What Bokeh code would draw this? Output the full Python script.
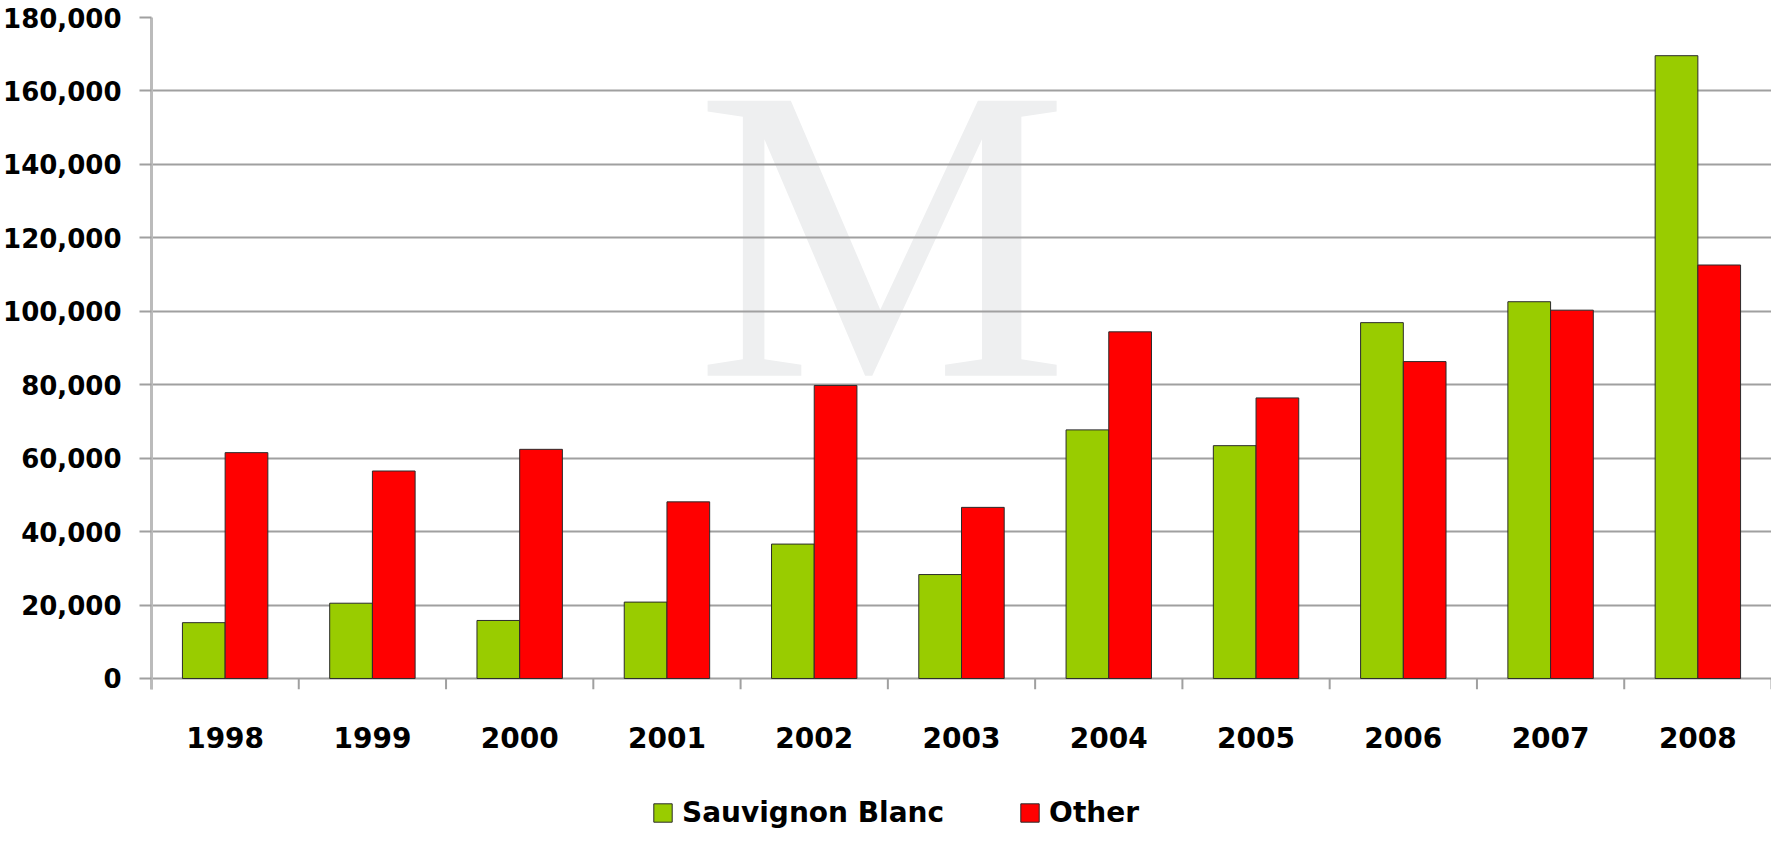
from bokeh.plotting import figure
from bokeh.layouts import column
from bokeh.models import (Range1d, LinearAxis, FixedTicker, Legend,
                          LegendItem, Label, NumeralTickFormatter, ColumnDataSource)
from bokeh.transform import dodge
from bokeh.embed import file_html
from bokeh.resources import INLINE

years = ["1998", "1999", "2000", "2001", "2002", "2003", "2004", "2005", "2006", "2007", "2008"]
sauvignon_blanc = [15200, 20500, 15800, 20800, 36600, 28300, 67700, 63400, 96900, 102600, 169600]
other = [61500, 56500, 62400, 48100, 79800, 46600, 94400, 76400, 86300, 100300, 112600]
series_names = ["Sauvignon Blanc", "Other"]
y_ticks = [0, 20000, 40000, 60000, 80000, 100000, 120000, 140000, 160000, 180000]

FONT = "DejaVu Sans"
GRID = "#a0a0a0"
GREEN = "#99cc00"
RED = "#ff0000"
EDGE = "#2b2b2b"

n = len(years)
pos = list(range(n))
src = ColumnDataSource(dict(pos=pos, year=years, sb=sauvignon_blanc, other=other))

y_below = -3000  # room under the zero line for the category boundary ticks
p = figure(x_range=Range1d(-0.5, n - 0.5), y_range=Range1d(y_below, y_ticks[-1]),
           width=1771, height=793, output_backend="svg", toolbar_location=None,
           x_axis_location=None,
           min_border_top=17, min_border_bottom=104, min_border_right=0, min_border_left=0,
           outline_line_color=None, background_fill_color="white", border_fill_color="white")

# watermark (decoration)
wm = Label(x=years.index("2002"), y=121000, x_offset=68,
           text="M", text_font="Liberation Serif",
           text_font_size="420px", text_color="#eeeff0", text_align="center",
           text_baseline="alphabetic", level="image")
p.add_layout(wm)

# category boundary ticks below the zero line
bounds = [i - 0.5 for i in range(n + 1)]
p.segment(x0=bounds, x1=bounds, y0=[0] * len(bounds), y1=[y_below] * len(bounds),
          line_color=GRID, line_width=2)

r1 = p.vbar(x=dodge("pos", -0.145), top="sb", width=0.29, source=src,
            fill_color=GREEN, line_color=EDGE, line_width=1)
r2 = p.vbar(x=dodge("pos", 0.145), top="other", width=0.29, source=src,
            fill_color=RED, line_color=EDGE, line_width=1)

# y axis
yax = p.yaxis[0]
yax.ticker = FixedTicker(ticks=y_ticks)
yax.formatter = NumeralTickFormatter(format="0,0")
yax.major_label_text_font = FONT
yax.major_label_text_font_style = "bold"
yax.major_label_text_font_size = "26px"
yax.major_label_text_color = "black"
yax.major_label_standoff = 18
yax.axis_line_color = "#bbbbbb"
yax.axis_line_width = 3
yax.major_tick_out = 12
yax.major_tick_in = 0
yax.major_tick_line_color = GRID
yax.major_tick_line_width = 2
yax.minor_tick_line_color = None

p.ygrid.ticker = FixedTicker(ticks=y_ticks)
p.ygrid.grid_line_color = GRID
p.ygrid.grid_line_width = 2
p.xgrid.grid_line_color = None

# year label axis
label_axis = LinearAxis(ticker=FixedTicker(ticks=pos),
                        major_label_overrides={i: y for i, y in zip(pos, years)},
                        axis_line_color=None, major_tick_line_color=None,
                        major_tick_out=0, major_tick_in=0,
                        minor_tick_line_color=None,
                        major_label_text_font=FONT, major_label_text_font_style="bold",
                        major_label_text_font_size="28px", major_label_text_color="black",
                        major_label_standoff=37)
p.add_layout(label_axis, "below")

# legend strip
lg = figure(x_range=Range1d(0, 1), y_range=Range1d(0, 1), width=1771, height=36,
            output_backend="svg", toolbar_location=None,
            x_axis_location=None, y_axis_location=None,
            min_border=0, outline_line_color=None,
            background_fill_color="white", border_fill_color="white")
lg.grid.grid_line_color = None
# legend swatch renderers (kept outside the visible range)
d1 = lg.vbar(x=[-5], top=[0], width=0.1, fill_color=GREEN, line_color=EDGE, line_width=1)
d2 = lg.vbar(x=[-5], top=[0], width=0.1, fill_color=RED, line_color=EDGE, line_width=1)
legend = Legend(items=[LegendItem(label=series_names[0], renderers=[d1]),
                       LegendItem(label=series_names[1], renderers=[d2])],
                orientation="horizontal", location=(500, 0), padding=0, margin=0,
                border_line_color=None, background_fill_alpha=0,
                glyph_width=23, glyph_height=23, label_standoff=8, spacing=74,
                label_text_font=FONT, label_text_font_style="bold",
                label_text_font_size="28px", label_text_color="black")
lg.add_layout(legend)

page = column(p, lg, spacing=0)
open("out.html", "w").write(file_html(page, INLINE))
